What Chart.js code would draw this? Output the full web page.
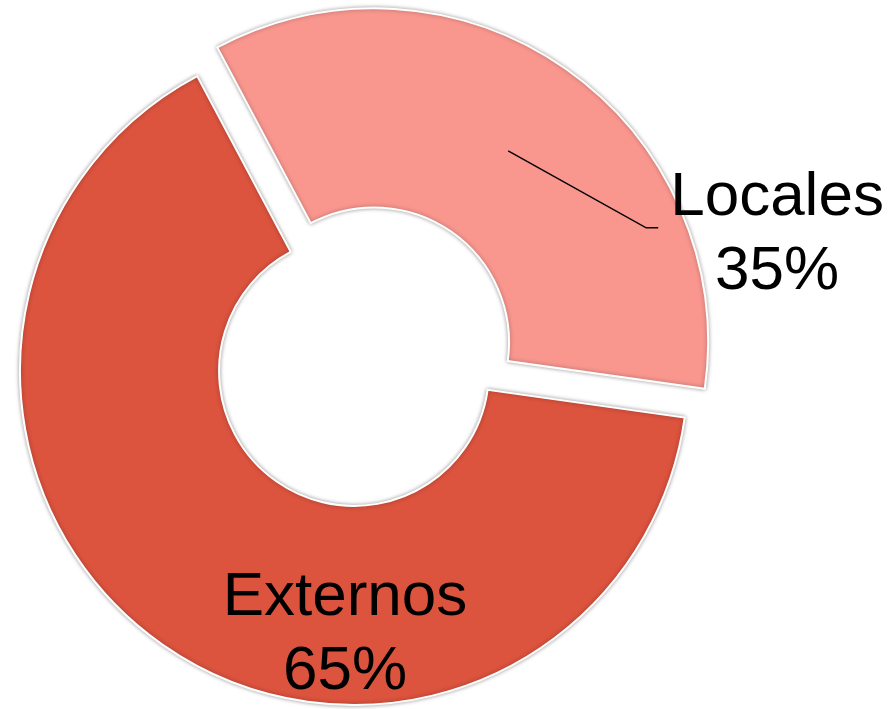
<!DOCTYPE html>
<html>
<head>
<meta charset="utf-8">
<script src="https://cdn.jsdelivr.net/npm/chart.js@4/dist/chart.umd.min.js"></script>
<style>
  html, body { margin: 0; padding: 0; background: #fff; }
  canvas { display: block; }
</style>
</head>
<body>
<canvas id="myChart" width="889" height="709"></canvas>
<script>
const labels = ["Locales", "Externos"];
const values = [35, 65];
const colors = ["#F9978F", "#DC533E"];

// how far the first slice is pulled out, in px
const explode = [35, 0];

// where each label goes
const labelPlacement = [
  { kind: "leader", radius: 0.7, elbow: [138, 77], tail: 12, gap: 12 },
  { kind: "inside", angle: 182, radius: 0.772 },
];

const font = '62px "Liberation Sans", Arial, sans-serif';
const lineH = 74;

const total = values.reduce((a, b) => a + b, 0);

const sliceLabels = {
  id: "sliceLabels",
  afterUpdate(chart) {
    const meta = chart.getDatasetMeta(0);
    meta.data.forEach((arc, i) => {
      if (!explode[i]) return;
      const mid = (arc.startAngle + arc.endAngle) / 2;
      arc.x += Math.cos(mid) * explode[i];
      arc.y += Math.sin(mid) * explode[i];
    });
  },
  beforeDatasetsDraw(chart) {
    const ctx = chart.ctx;
    ctx.save();
    ctx.shadowColor = "rgba(0,0,0,0.35)";
    ctx.shadowBlur = 4;
  },
  afterDatasetsDraw(chart) {
    const ctx = chart.ctx;
    ctx.restore();
    const meta = chart.getDatasetMeta(0);
    ctx.save();
    ctx.font = font;
    ctx.fillStyle = "#000";
    ctx.textAlign = "center";
    ctx.textBaseline = "alphabetic";
    const cap = 0.716 * 62;
    meta.data.forEach((arc, i) => {
      const p = labelPlacement[i];
      const lines = [labels[i], Math.round((values[i] / total) * 100) + "%"];
      const w = Math.max(...lines.map((t) => ctx.measureText(t).width));
      let cx, cy;
      if (p.kind === "leader") {
        const mid = (arc.startAngle + arc.endAngle) / 2;
        const r = arc.outerRadius * p.radius;
        const sx = arc.x + Math.cos(mid) * r;
        const sy = arc.y + Math.sin(mid) * r;
        const ex = sx + p.elbow[0];
        const ey = sy + p.elbow[1];
        ctx.strokeStyle = "#000";
        ctx.lineWidth = 1.5;
        ctx.beginPath();
        ctx.moveTo(sx, sy);
        ctx.lineTo(ex, ey);
        ctx.lineTo(ex + p.tail, ey);
        ctx.stroke();
        cx = ex + p.tail + p.gap + w / 2;
        cy = ey + 1;
      } else {
        const a = ((p.angle - 90) * Math.PI) / 180;
        const r = arc.outerRadius * p.radius;
        cx = arc.x + Math.cos(a) * r;
        cy = arc.y + Math.sin(a) * r;
      }
      lines.forEach((t, k) => {
        const base = cy - lineH / 2 + cap / 2 + k * lineH + 1;
        ctx.fillText(t, cx, base);
      });
    });
    ctx.restore();
  },
};

new Chart("myChart", {
  type: "doughnut",
  data: {
    labels: labels,
    datasets: [
      {
        data: values,
        backgroundColor: colors,
        borderColor: "#ffffff",
        borderWidth: 2,
        borderJoinStyle: "miter",
      },
    ],
  },
  options: {
    responsive: false,
    animation: false,
    events: [],
    rotation: -28,
    cutout: "40.4%",
    radius: 334,
    layout: { padding: { top: 33, right: 181, bottom: 0, left: 0 } },
    plugins: {
      legend: { display: false },
      tooltip: { enabled: false },
    },
  },
  plugins: [sliceLabels],
});
</script>
</body>
</html>
